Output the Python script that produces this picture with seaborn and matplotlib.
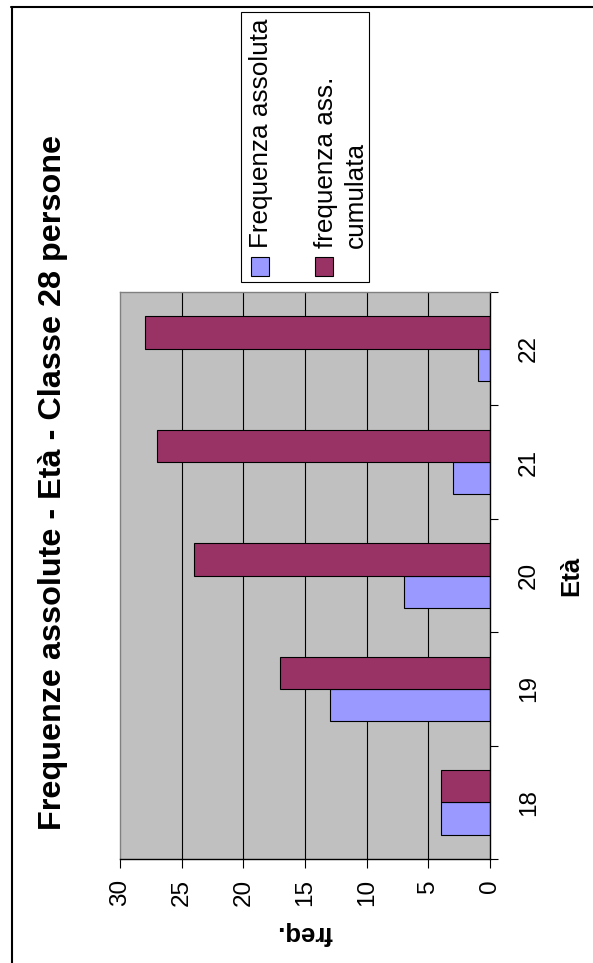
import matplotlib
matplotlib.use("Agg")
import matplotlib.pyplot as plt
from matplotlib.lines import Line2D
from matplotlib.patches import Rectangle
import seaborn as sns
import pandas as pd

# Data
ages = ["18", "19", "20", "21", "22"]
freq_abs = [4, 13, 7, 3, 1]
freq_cum = [4, 17, 24, 27, 28]
series_names = ["Frequenza assoluta", "frequenza ass.\ncumulata"]
series_colors = ["#9999FF", "#993366"]
value_ticks = [0, 5, 10, 15, 20, 25, 30]

title = "Frequenze assolute - Età - Classe 28 persone"
x_title = "Età"
y_title = "freq."

sns.set_theme(style="white")
plt.rcParams["font.family"] = ["Liberation Sans", "DejaVu Sans"]
plt.rcParams.update({"text.color": "black", "axes.labelcolor": "black",
                     "xtick.color": "black", "ytick.color": "black"})

W, H = 593, 963
fig = plt.figure(figsize=(W / 100, H / 100), dpi=100)


def fx(px):
    return px / W


def fy(py):
    return 1 - py / H


# Plot area (chart is drawn turned a quarter turn counter-clockwise)
left, right, top, bottom = 120, 490, 292, 859
ax = fig.add_axes([fx(left), fy(bottom), (right - left) / W, (bottom - top) / H])
ax.set_facecolor("#C0C0C0")

df = pd.DataFrame({
    "age": ages * 2,
    "value": freq_abs + freq_cum,
    "series": [series_names[0]] * len(ages) + [series_names[1]] * len(ages),
})

sns.barplot(data=df, x="value", y="age", hue="series", order=ages,
            hue_order=series_names, palette=series_colors, saturation=1,
            orient="h", width=0.57, edgecolor="black", linewidth=0.8,
            legend=False, ax=ax)

ax.set_xlim(value_ticks[-1], value_ticks[0])
ax.set_ylim(-0.5, len(ages) - 0.5)
ax.set_axisbelow(True)
ax.grid(False)
for v in value_ticks[1:-1]:
    ax.axvline(v, color="black", lw=0.8, zorder=0.5)

# Spines
for s in ["left", "top"]:
    ax.spines[s].set_color("#808080")
    ax.spines[s].set_linewidth(1.0)
for s in ["right", "bottom"]:
    ax.spines[s].set_color("black")
    ax.spines[s].set_linewidth(1.0)

# Value axis (bottom)
ax.set_xticks(value_ticks)
ax.set_xticklabels([str(v) for v in value_ticks], rotation=90, fontsize=17.5,
                   va="top", ha="center")
ax.tick_params(axis="x", which="major", direction="out", length=6.5, width=0.8,
               color="black", pad=8, bottom=True)

# Category axis (right)
ax.yaxis.tick_right()
ax.set_yticks([i - 0.5 for i in range(len(ages) + 1)])
ax.set_yticklabels([])
ax.set_yticks(list(range(len(ages))), minor=True)
ax.set_yticklabels(ages, minor=True, rotation=90, fontsize=17.5,
                   va="center", ha="left")
ax.tick_params(axis="y", which="major", direction="out", length=6, width=0.8,
               color="black", right=True, left=False)
ax.tick_params(axis="y", which="minor", length=0, pad=20, right=True, left=False)

ax.set_xlabel(y_title, rotation=180, fontsize=18.5, fontweight="bold",
              va="center", ha="center")
ax.xaxis.set_label_coords(0.5, (bottom - 933) / (bottom - top))
ax.yaxis.set_label_position("right")
ax.set_ylabel(x_title, rotation=90, fontsize=18.5, fontweight="bold",
              va="center", ha="center")
ax.yaxis.set_label_coords((571 - left) / (right - left), 0.5)

# Title
fig.text(fx(53), fy(482), title, rotation=90, fontsize=23.3, fontweight="bold",
         ha="center", va="center")

# Legend box
fig.add_artist(Rectangle((fx(241), fy(282)), (369 - 241) / W, (282 - 12) / H,
                         transform=fig.transFigure, facecolor="white",
                         edgecolor="black", lw=0.8))
legend_x = [261, 341]
swatch_x = [251, 315]
for name, color, tx, sx in zip(series_names, series_colors, legend_x, swatch_x):
    fig.add_artist(Rectangle((fx(sx), fy(276)), 18 / W, 19 / H,
                             transform=fig.transFigure, facecolor=color,
                             edgecolor="black", lw=0.8))
    fig.text(fx(tx), fy(248), name, rotation=90, fontsize=18.8,
             ha="center", va="bottom", multialignment="left",
             linespacing=1.35)

# Outer chart frame
fig.add_artist(Line2D([fx(11), fx(W)], [fy(7.5), fy(7.5)], color="black",
                      lw=1.5, transform=fig.transFigure))
fig.add_artist(Line2D([fx(11.5), fx(11.5)], [fy(7), fy(H)], color="black",
                      lw=1.5, transform=fig.transFigure))

fig.savefig("out.png", dpi=100, facecolor="white")
